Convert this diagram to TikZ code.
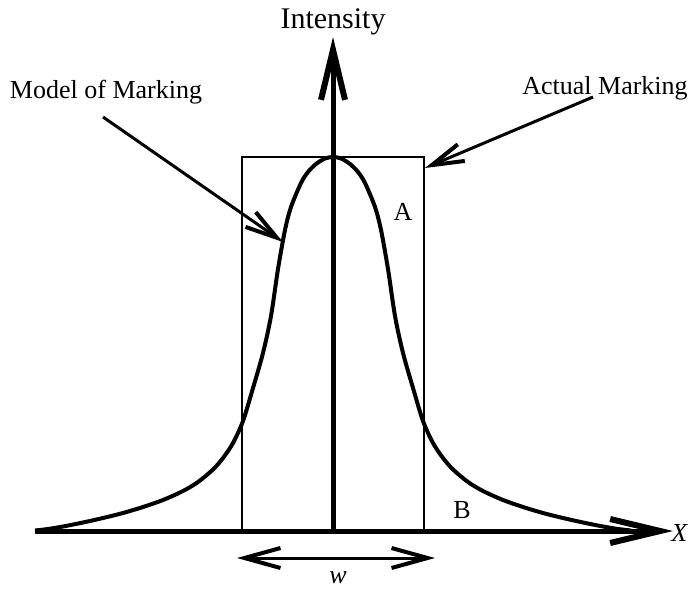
\documentclass[tikz,border=0pt]{standalone}
\usepackage{fontspec}
\setmainfont{Liberation Serif}
\usetikzlibrary{arrows.meta, positioning}
\tikzset{
    axis/.style={line width=2.5pt, -{Straight Barb[length=25pt, width=12pt, line width=3pt]}},
    profile/.style={line width=2pt, line join=round},
    marking/.style={line width=1pt},
    pointer/.style={line width=1.5pt, -{Straight Barb[length=16pt, width=9pt, line width=2pt]}},
    lbl/.style={font=\fontsize{13}{15}\selectfont, inner sep=1pt}
}

\begin{document}
\begin{tikzpicture}[x=0.5pt, y=-0.5pt,
        span/.style={line width=1.5pt, {Straight Barb[length=18pt, width=10pt, line width=2pt]}-{Straight Barb[length=18pt, width=10pt, line width=2pt]}}
    ]
      \useasboundingbox (0,0) rectangle (689,593);
      \coordinate (xstart) at (35,531);
      \coordinate (xtip) at (673,531);
      \coordinate (orig) at (333,531);
      \coordinate (ytip) at (333,37);

      % actual marking (box) and model (profile)
      \draw[marking] (242,531) rectangle (424,157);
      \draw[profile] plot[smooth] coordinates {(35,530.5) (48,529) (63,526.5) (83,522.5) (103,518) (123,513) (143,507) (163,500) (183,491) (198,482) (213,469.5) (223,458) (233,443) (243,421) (253,388) (263,353) (271,316) (278,269) (285,230) (291,207) (301,183) (308,172) (316,164) (325,158.5) (333,157)
        (341,158.5) (350,164) (358,172) (365,183) (375,207) (381,230) (388,269) (395,316) (403,353) (413,388) (423,421) (433,443) (443,458) (453,469.5) (468,482) (483,491) (503,500) (523,507) (543,513) (563,518) (583,522.5) (603,526.5) (618,529) (631,530.5)};

      \draw[axis] (xstart) -- (xtip);
      \draw[axis] (orig) -- (ytip);

      \node (inten) [lbl, font=\fontsize{15}{17}\selectfont, above=0pt of ytip] {Intensity};
      \node (xlab) [lbl, anchor=west, inner sep=0pt] at (671,533) {\textit{X}};
      \node (model) [lbl] at (106,92) {Model of Marking};
      \node (actual) [lbl] at (605,88) {Actual Marking};
      \node (areaA) [lbl] at (403,212) {A};
      \node (areaB) [lbl] at (462,510) {B};

      \coordinate (mstart) at (103,117);
      \coordinate (mend) at (283,242);
      \coordinate (astart) at (593,97);
      \coordinate (aend) at (425,168);
      \draw[pointer] (mstart) -- (mend);
      \draw[pointer] (astart) -- (aend);

      \coordinate (wl) at (237,558);
      \coordinate (wr) at (435,558);
      \draw[span] (wl) -- (wr);
      \node (wlab) [lbl] at (338,578) {\textit{w}};
    \end{tikzpicture}
\end{document}
